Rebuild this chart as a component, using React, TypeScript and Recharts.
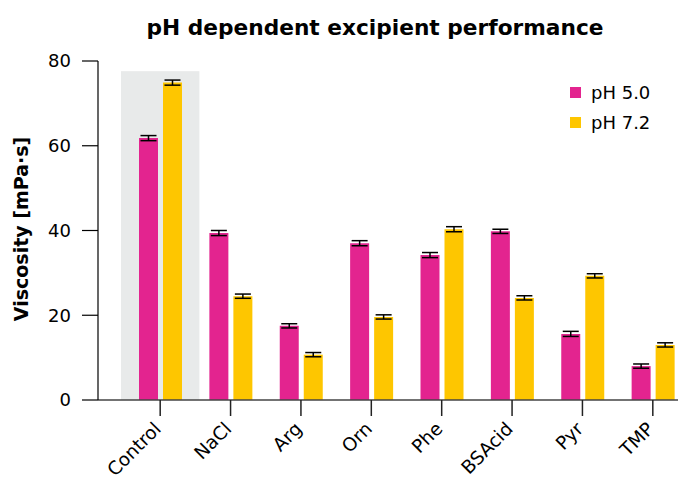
import { BarChart, Bar, XAxis, YAxis, ErrorBar, ReferenceArea, Legend } from "recharts"

const EXCIPIENTS = ["Control", "NaCl", "Arg", "Orn", "Phe", "BSAcid", "Pyr", "TMP"]
const PH5_VISCOSITY = [61.8, 39.4, 17.5, 37.0, 34.2, 39.8, 15.6, 8.0]
const PH5_ERROR = [0.6, 0.6, 0.5, 0.6, 0.6, 0.5, 0.6, 0.5]
const PH72_VISCOSITY = [74.9, 24.5, 10.7, 19.6, 40.3, 24.1, 29.3, 13.0]
const PH72_ERROR = [0.6, 0.5, 0.5, 0.5, 0.6, 0.5, 0.5, 0.5]
const Y_TICKS = [0, 20, 40, 60, 80]
const HIGHLIGHT_TOP = 77.6

const FONT = "'DejaVu Sans', Verdana, sans-serif"
const PINK = "#e3248f"
const YELLOW = "#fec600"

const data = EXCIPIENTS.map((name, i) => ({
  name,
  ph5: PH5_VISCOSITY[i],
  ph5Err: PH5_ERROR[i],
  ph72: PH72_VISCOSITY[i],
  ph72Err: PH72_ERROR[i],
}))

const RotatedTick = ({ x, y, payload }: any) => (
  <text
    x={x + 2}
    y={y + 12}
    transform={`rotate(-45, ${x + 2}, ${y + 12})`}
    textAnchor="end"
    fontFamily={FONT}
    fontSize={18.5}
    fill="#000"
  >
    {payload.value}
  </text>
)

const HighlightShape = (props: any) => (
  <rect x={props.x - 4} y={props.y} width={props.width + 8} height={props.height} fill="#e8eaea" />
)

const renderLegend = (props: any) => (
  <div>
    {props.payload.map((entry: any) => (
      <div key={entry.value} style={{ display: "flex", alignItems: "center", height: 30 }}>
        <span style={{ width: 11, height: 11, background: entry.color, marginRight: 10 }} />
        <span style={{ fontFamily: FONT, fontSize: 18, color: "#000" }}>{entry.value}</span>
      </div>
    ))}
  </div>
)

export default function App() {
  return (
    <div style={{ position: "absolute", left: 0, top: 0, width: 678, height: 479, overflow: "hidden", background: "#fff" }}>
      <div
        style={{
          position: "absolute",
          left: 375,
          top: 27,
          transform: "translate(-50%, -50%)",
          fontFamily: FONT,
          fontWeight: "bold",
          fontSize: 21.7,
          whiteSpace: "nowrap",
        }}
      >
        pH dependent excipient performance
      </div>
      <div
        style={{
          position: "absolute",
          left: 20.5,
          top: 229,
          transform: "translate(-50%, -50%) rotate(-90deg)",
          fontFamily: FONT,
          fontWeight: "bold",
          fontSize: 19,
          whiteSpace: "nowrap",
        }}
      >
        Viscosity [mPa·s]
      </div>
      <BarChart
        width={688}
        height={479}
        data={data}
        margin={{ top: 61, right: 0, bottom: 0, left: 0 }}
        barSize={19}
        barGap={5}
      >
        <ReferenceArea x1="Control" x2="Control" y1={0} y2={HIGHLIGHT_TOP} shape={HighlightShape} />
        <XAxis
          dataKey="name"
          height={79}
          padding={{ left: 27, right: 0 }}
          tickSize={16}
          tickLine={{ stroke: "#222", strokeWidth: 1.5 }}
          axisLine={{ stroke: "#444", strokeWidth: 1.5 }}
          tick={<RotatedTick />}
          interval={0}
        />
        <YAxis
          width={98}
          domain={[0, 80]}
          ticks={Y_TICKS}
          tickSize={16}
          tickMargin={11}
          tickLine={{ stroke: "#000", strokeWidth: 1.2 }}
          axisLine={{ stroke: "#000", strokeWidth: 1.2 }}
          tick={{ fontFamily: FONT, fontSize: 18, fill: "#000" }}
        />
        <Legend
          content={renderLegend}
          layout="vertical"
          align="center"
          verticalAlign="middle"
          wrapperStyle={{ top: 77, left: 570, width: 110 }}
        />
        <Bar dataKey="ph5" name="pH 5.0" fill={PINK} isAnimationActive={false}>
          <ErrorBar dataKey="ph5Err" width={8} stroke="#000" strokeWidth={1.5} />
        </Bar>
        <Bar dataKey="ph72" name="pH 7.2" fill={YELLOW} isAnimationActive={false}>
          <ErrorBar dataKey="ph72Err" width={8} stroke="#000" strokeWidth={1.5} />
        </Bar>
      </BarChart>
    </div>
  )
}
